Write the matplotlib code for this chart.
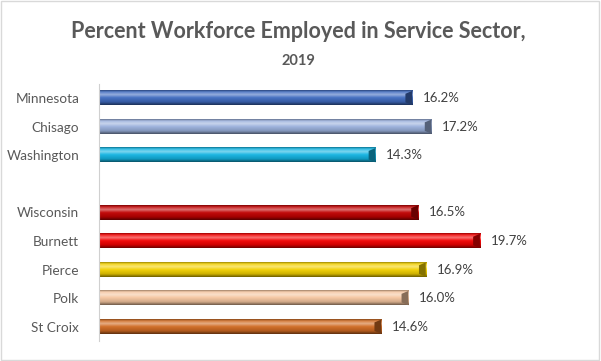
import numpy as np
import matplotlib
matplotlib.use("Agg")
import matplotlib.pyplot as plt
from matplotlib.colors import LinearSegmentedColormap, to_rgb
from matplotlib.patches import Rectangle, Polygon

plt.rcParams['font.family'] = ['Lato', 'DejaVu Sans']

# data
places = ["Minnesota", "Chisago", "Washington", "", "Wisconsin",
          "Burnett", "Pierce", "Polk", "St Croix"]
values = [16.2, 17.2, 14.3, None, 16.5, 19.7, 16.9, 16.0, 14.6]
colors = ["#3F6BC0", "#9AB0DC", "#12B4E2", None, "#C00000",
          "#F20000", "#F2D000", "#F6C6A0", "#D06A22"]

text_grey = "#595959"


def shade(c, f):
    c = np.array(to_rgb(c))
    if f >= 0:
        return tuple(c + (1 - c) * f)
    return tuple(c * (1 + f))


# bevel look: dark top edge, highlight, body, dark bottom
def bar_cmap(c):
    stops = [(0.0, shade(c, -0.35)), (0.12, shade(c, 0.15)), (0.3, shade(c, 0.45)),
             (0.5, shade(c, 0.05)), (0.8, shade(c, -0.15)), (1.0, shade(c, -0.55))]
    return LinearSegmentedColormap.from_list("b", stops)


fig = plt.figure(figsize=(6.01, 3.61), dpi=100)
ax = fig.add_axes([0.1642, 0.0554, 0.805, 0.7126])

bar_h = 0.5
ypos = np.arange(len(places))
grad = np.linspace(0, 1, 64).reshape(-1, 1)
for y, v, c in zip(ypos, values, colors):
    if v is None:
        continue
    ax.imshow(grad, cmap=bar_cmap(c), aspect="auto", interpolation="bilinear",
              extent=(0, v, y + bar_h / 2, y - bar_h / 2), zorder=2)
    # bevelled end cap
    cap = 0.35
    ax.add_patch(Polygon([(v - cap, y - bar_h / 2 + 0.1), (v, y - bar_h / 2),
                          (v, y + bar_h / 2), (v - cap, y + bar_h / 2 - 0.1)],
                         closed=True, color=shade(c, -0.45), lw=0, zorder=3))
    ax.text(v + 0.55, y, f"{v:.1f}%", va="center", ha="left",
            fontsize=9.5, color="#404040")

ax.set_xlim(0, 25)
ax.set_ylim(len(places) - 0.5, -0.5)
ax.set_yticks(ypos)
ax.set_yticklabels(places, fontsize=9.8, color=text_grey)
ax.tick_params(axis="y", length=0, pad=14)
ax.set_xticks([])
for s in ["top", "right", "bottom"]:
    ax.spines[s].set_visible(False)
ax.spines["left"].set_color("#D0D0D0")
ax.spines["left"].set_linewidth(0.8)

fig.text(0.497, 0.913, "Percent Workforce Employed in Service Sector,",
         ha="center", va="center", fontsize=15.5, fontweight="bold", color=text_grey)
fig.text(0.497, 0.831, "2019", ha="center", va="center", fontsize=10.5,
         fontweight="bold", color=text_grey)

# chart border
fig.add_artist(Rectangle((0.002, 0.003), 0.995, 0.993, transform=fig.transFigure,
                         fill=False, edgecolor="#D9D9D9", lw=1))

fig.savefig("out.png", dpi=100)
